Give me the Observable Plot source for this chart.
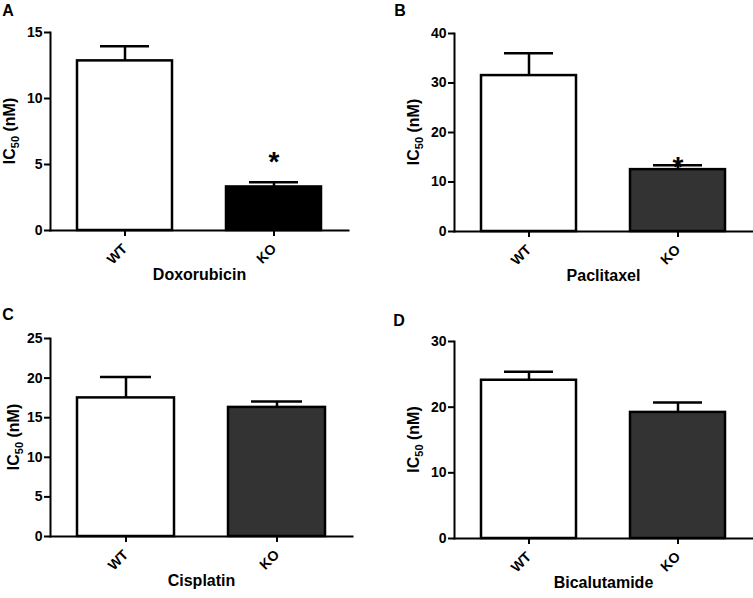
<!DOCTYPE html>
<html><head><meta charset="utf-8">
<script src="https://cdn.jsdelivr.net/npm/d3@7"></script>
<script src="https://cdn.jsdelivr.net/npm/@observablehq/plot@0.6"></script>
<style>
body{margin:0;background:#fff;}
#root{position:relative;width:753px;height:598px;}
#root svg{position:absolute;overflow:visible;}
</style></head><body><div id="root"></div>
<script>
const groups = ["WT", "KO"];
const doxMean = [12.85, 3.3],  doxUpper = [13.95, 3.65];
const pacMean = [31.5, 12.5],  pacUpper = [36.0, 13.4];
const cisMean = [17.5, 16.3],  cisUpper = [20.15, 17.05];
const bicMean = [24.1, 19.2],  bicUpper = [25.4, 20.7];
const doxTicks = [0, 5, 10, 15];
const pacTicks = [0, 10, 20, 30, 40];
const cisTicks = [0, 5, 10, 15, 20, 25];
const bicTicks = [0, 10, 20, 30];
const drugs = ["Doxorubicin", "Paclitaxel", "Cisplatin", "Bicalutamide"];
const letters = ["A", "B", "C", "D"];
const koFills = ["#000000", "#333333", "#333333", "#333333"];
const starY = [[null, 5.6], [null, 14.0], [null, null], [null, null]];

const FONT = "'Liberation Sans', Arial, sans-serif";
const panels = [
  {mean: doxMean, upper: doxUpper, ticks: doxTicks, left: 0,   top: 0,   ml: 50, mr: 28, mt: 32, mb: 68, lx: 8,  ly: 15.5, yl: 32},
  {mean: pacMean, upper: pacUpper, ticks: pacTicks, left: 377, top: 0,   ml: 77, mr: 1,  mt: 33, mb: 67, lx: 23, ly: 15.5, yl: 32},
  {mean: cisMean, upper: cisUpper, ticks: cisTicks, left: 0,   top: 300, ml: 50, mr: 24, mt: 38, mb: 62, lx: 8,  ly: 20,   yl: 28},
  {mean: bicMean, upper: bicUpper, ticks: bicTicks, left: 377, top: 300, ml: 77, mr: 1,  mt: 41, mb: 60, lx: 22, ly: 26,   yl: 32}
];

const root = document.getElementById("root");
panels.forEach((p, i) => {
  const rows = groups.map((g, j) => ({
    group: g, mean: p.mean[j], upper: p.upper[j],
    fill: j === 0 ? "#ffffff" : koFills[i], star: starY[i][j]
  }));
  const W = 376, H = 298;
  const svg = Plot.plot({
    width: W, height: H,
    marginLeft: p.ml, marginRight: p.mr, marginTop: p.mt, marginBottom: p.mb,
    style: {fontFamily: FONT, fontWeight: "bold", fontSize: "14px", color: "#000", background: "transparent", overflow: "visible"},
    x: {domain: groups, padding: 0},
    y: {domain: [0, p.ticks[p.ticks.length - 1]]},
    color: {type: "identity"},
    marks: [
      Plot.barY(rows, {x: "group", y: "mean", fill: "fill", stroke: "#000", strokeWidth: 2.5, insetLeft: 27, insetRight: 27}),
      Plot.ruleX(rows, {x: "group", y1: "mean", y2: "upper", stroke: "#000", strokeWidth: 2.5}),
      Plot.tickY(rows, {x: "group", y: "upper", stroke: "#000", strokeWidth: 2.5, insetLeft: 50, insetRight: 50}),
      Plot.frame({anchor: "left", stroke: "#000", strokeWidth: 2}),
      Plot.frame({anchor: "bottom", stroke: "#000", strokeWidth: 2}),
      Plot.axisY({ticks: p.ticks, tickSize: 6, tickPadding: 2, strokeWidth: 2, label: null, fontSize: 14, fontWeight: "bold", tickFormat: d => String(d)}),
      Plot.axisX({tickSize: 6, tickRotate: -45, tickPadding: 10, strokeWidth: 2, label: null, fontSize: 14, fontWeight: "bold"}),
      Plot.text([drugs[i]], {frameAnchor: "bottom", dy: 49, fontSize: 16, fontWeight: "bold", text: d => d}),
      Plot.text(rows.filter(d => d.star != null), {x: "group", y: "star", text: () => "*", fontSize: 28, fontWeight: "bold", lineAnchor: "middle", dy: 5})
    ]
  });
  svg.style.left = p.left + "px";
  svg.style.top = p.top + "px";
  const s = d3.select(svg);
  s.append("text").attr("x", p.lx).attr("y", p.ly)
    .attr("font-family", FONT).attr("font-weight", "bold").attr("font-size", 16).text(letters[i]);
  const cy = (p.mt + (H - p.mb)) / 2;
  const t = s.append("text")
    .attr("transform", `translate(${p.ml - p.yl - 3},${cy}) rotate(-90)`)
    .attr("text-anchor", "middle")
    .attr("font-family", FONT).attr("font-weight", "bold").attr("font-size", 16);
  t.append("tspan").text("IC");
  t.append("tspan").attr("font-size", 11).attr("dy", 4).text("50");
  t.append("tspan").attr("dy", -4).text(" (nM)");
  root.appendChild(svg);
});
</script>
</body></html>
